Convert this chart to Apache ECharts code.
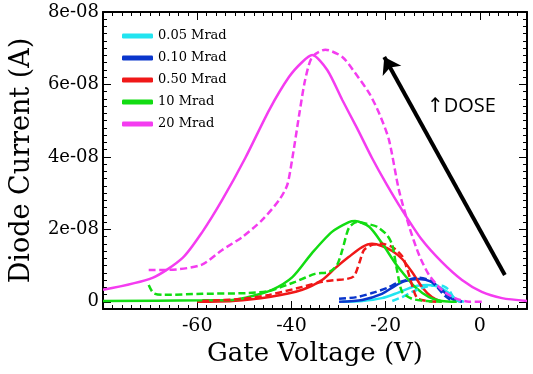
<!DOCTYPE html>
<html>
<head>
<meta charset="utf-8">
<script src="https://cdn.jsdelivr.net/npm/echarts@6/dist/echarts.min.js"></script>
<style>
  html, body { margin: 0; padding: 0; background: #fff; }
  #chart { width: 533px; height: 374px; }
</style>
</head>
<body>
<div id="chart"></div>
<script>
// doses in the legend
const doses = ['0.05 Mrad', '0.10 Mrad', '0.50 Mrad', '10 Mrad', '20 Mrad'];
const colors = ['#22e4f0', '#0a36cc', '#f01818', '#12dc12', '#f43cf0'];

// [gate voltage (V), diode current (1e-8 A)]
const cyanSolid = [[-29.2,0],[-25,0.02],[-20.8,0.1],[-17.6,0.24],[-15.5,0.35],[-13.3,0.44],[-11.2,0.46],[-8.7,0.41],[-6.6,0.24],[-4.9,0.05],[-3.4,0]];
const cyanDash = [[-18.6,0.02],[-16.5,0.13],[-14.4,0.27],[-12.3,0.38],[-10.2,0.44],[-8.1,0.44],[-6.6,0.33],[-5.5,0.1],[-4.2,0]];
const blueSolid = [[-29.9,0],[-25,0.05],[-20.8,0.22],[-18,0.44],[-15.9,0.57],[-12.9,0.63],[-10.2,0.55],[-8.1,0.33],[-5.9,0.08],[-3.8,0]];
const blueDash = [[-29.9,0.08],[-26.1,0.13],[-22.9,0.24],[-19.7,0.38],[-17.6,0.52],[-15.5,0.6],[-12.9,0.66],[-10.8,0.6],[-9.1,0.41],[-7.4,0.16],[-5.9,0.02]];
const redSolid = [[-60,0],[-52.5,0.02],[-44.7,0.13],[-37.7,0.33],[-33.5,0.6],[-30.7,0.93],[-27.8,1.24],[-25,1.51],[-22.9,1.6],[-20.8,1.54],[-18.6,1.4],[-16.5,1.18],[-14.4,0.82],[-12.3,0.41],[-10.2,0.13],[-8.1,0]];
const redDash = [[-58.9,0.02],[-50.4,0.08],[-44.7,0.19],[-37.7,0.41],[-33.5,0.55],[-30.7,0.6],[-28.2,0.63],[-26.7,0.71],[-25.6,1.07],[-24.6,1.43],[-22.9,1.57],[-20.8,1.6],[-18.6,1.51],[-16.5,1.26],[-15.5,0.93],[-14.4,0.46],[-13.3,0.1],[-11.2,0.02],[-9.1,0]];
const greenSolid = [[-80,0.02],[-58.9,0.04],[-52.5,0.05],[-48.3,0.16],[-44.1,0.33],[-39.8,0.68],[-35.6,1.35],[-31.4,1.93],[-27.8,2.2],[-26.5,2.23],[-23.5,2.07],[-20.8,1.62],[-18,1.07],[-16.5,0.82],[-13.8,0.41],[-10.8,0.13],[-8.1,0.02],[-4.9,0]];
const greenDash = [[-70.3,0.46],[-69.3,0.24],[-67.4,0.19],[-58.9,0.22],[-49.2,0.24],[-44.7,0.3],[-39.2,0.55],[-35,0.77],[-32,0.82],[-30.3,1.02],[-29.2,1.43],[-27.8,2.04],[-26.1,2.2],[-23.9,2.15],[-21.8,2.07],[-19.7,1.84],[-18.6,1.57],[-17.6,0.88],[-16.5,0.27],[-14.4,0.08],[-11.2,0.02],[-8.1,0]];
const magSolid = [[-80,0.33],[-69.5,0.66],[-63.1,1.21],[-58.9,1.93],[-54.7,2.81],[-49.8,3.97],[-44.7,5.3],[-40.5,6.21],[-37.7,6.62],[-35.6,6.81],[-32.4,6.4],[-29.2,5.57],[-26.1,4.8],[-22.9,3.97],[-19.7,3.22],[-16.5,2.53],[-12.3,1.71],[-8.1,1.1],[-3.8,0.6],[0.4,0.27],[4.7,0.1],[10,0.02]];
const magDash = [[-70.3,0.88],[-66.1,0.88],[-59.1,1.02],[-54.7,1.43],[-50.4,1.79],[-46.2,2.26],[-42.6,2.81],[-40.9,3.22],[-39.8,3.97],[-38.3,5.21],[-37.1,6.12],[-35.6,6.76],[-32.8,6.96],[-29.2,6.76],[-26.5,6.32],[-23.5,5.76],[-21.4,5.21],[-19.3,4.47],[-17.2,3.09],[-15,2.07],[-12.9,1.29],[-10.8,0.74],[-8.1,0.33],[-5.3,0.1],[-2.3,0],[0.4,0]];

const solidSets = [cyanSolid, blueSolid, redSolid, greenSolid, magSolid];
const dashSets = [cyanDash, blueDash, redDash, greenDash, magDash];

// axis ticks
const xMajor = [-80, -60, -40, -20, 0];
const xLabels = [-60, -40, -20, 0];
const yMajor = [0, 2, 4, 6, 8];

// arrow "increasing dose": from, to
const doseArrow = [[5.3, 0.74], [-20.3, 6.76]];

const serif = 'DejaVu Serif';
const black = '#000';

const chart = echarts.init(document.getElementById('chart'), null, { renderer: 'canvas' });

const xBase = { type: 'value', min: -80, max: 10, splitLine: { show: false } };
const yBase = { type: 'value', min: -0.2, max: 8, splitLine: { show: false } };
const line = { onZero: false, lineStyle: { color: black, width: 2 } };
const noLine = { show: false, onZero: false };

const xAxis = [
    Object.assign({}, xBase, {
        position: 'bottom', interval: 2,
        axisLine: line,
        axisTick: { inside: true, length: 4, lineStyle: { color: black } },
        axisLabel: { show: false },
        name: 'Gate Voltage (V)', nameLocation: 'middle', nameGap: 32,
        nameTextStyle: { fontFamily: serif, fontSize: 26, color: black }
    }),
    Object.assign({}, xBase, {
        position: 'bottom',
        axisLine: noLine,
        axisTick: { inside: true, length: 8, customValues: xMajor, lineStyle: { color: black } },
        axisLabel: { customValues: xLabels, margin: 8, fontFamily: serif, fontSize: 19, color: black }
    }),
    Object.assign({}, xBase, {
        position: 'top', interval: 2,
        axisLine: line,
        axisTick: { inside: true, length: 4, lineStyle: { color: black } },
        axisLabel: { show: false }
    }),
    Object.assign({}, xBase, {
        position: 'top',
        axisLine: noLine,
        axisTick: { inside: true, length: 8, customValues: xMajor, lineStyle: { color: black } },
        axisLabel: { show: false }
    })
];

const yAxis = [
    Object.assign({}, yBase, {
        position: 'left', interval: 0.2,
        axisLine: line,
        axisTick: { inside: true, length: 4, lineStyle: { color: black } },
        axisLabel: { show: false },
        name: 'Diode Current (A)', nameLocation: 'middle', nameGap: 68,
        nameTextStyle: { fontFamily: serif, fontSize: 27, color: black }
    }),
    Object.assign({}, yBase, {
        position: 'left',
        axisLine: noLine,
        axisTick: { inside: true, length: 8, customValues: yMajor, lineStyle: { color: black } },
        axisLabel: {
            customValues: yMajor, margin: 4, fontFamily: serif, fontSize: 18, color: black,
            formatter: v => v === 0 ? '0' : v + 'e-08'
        }
    }),
    Object.assign({}, yBase, {
        position: 'right', interval: 0.2,
        axisLine: line,
        axisTick: { inside: true, length: 4, lineStyle: { color: black } },
        axisLabel: { show: false }
    }),
    Object.assign({}, yBase, {
        position: 'right',
        axisLine: noLine,
        axisTick: { inside: true, length: 8, customValues: yMajor, lineStyle: { color: black } },
        axisLabel: { show: false }
    })
];

const series = [];
doses.forEach((name, i) => {
    series.push({
        name, type: 'line', data: solidSets[i], showSymbol: false, smooth: 0.25,
        lineStyle: { color: colors[i], width: 2.5 },
        itemStyle: { color: colors[i] }
    });
});
doses.forEach((name, i) => {
    series.push({
        name, type: 'line', data: dashSets[i], showSymbol: false, smooth: 0.25,
        lineStyle: { color: colors[i], width: 2.5, type: [7, 3.5] },
        itemStyle: { color: colors[i] }
    });
});
// the dose arrow
series[0].markLine = {
    silent: true,
    symbol: ['none', 'arrow'],
    symbolSize: 16,
    label: { show: false },
    lineStyle: { color: black, width: 4, type: 'solid' },
    data: [[{ coord: doseArrow[0] }, { coord: doseArrow[1] }]]
};

chart.setOption({
    animation: false,
    backgroundColor: '#fff',
    grid: { left: 99, right: 6, top: 12, bottom: 65 },
    legend: {
        data: doses, orient: 'vertical', left: 122, top: 29, padding: 0,
        itemWidth: 31, itemHeight: 5, itemGap: 8, icon: 'roundRect',
        textStyle: { fontFamily: serif, fontSize: 13, color: black, lineHeight: 14 }
    },
    graphic: [{
        type: 'text', left: 427, top: 96,
        style: { text: '↑DOSE', font: '20px "Open Sans", "DejaVu Sans", sans-serif', fill: black }
    }],
    xAxis, yAxis, series
});
</script>
</body>
</html>
